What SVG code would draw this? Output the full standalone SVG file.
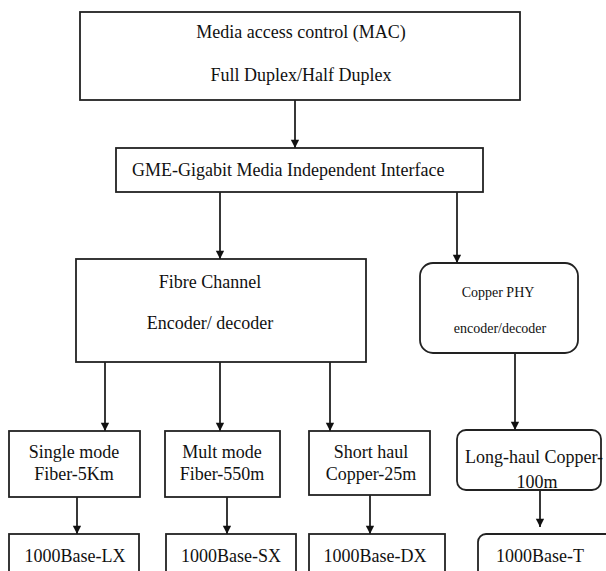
<svg xmlns="http://www.w3.org/2000/svg" width="606" height="571" viewBox="0 0 606 571">
<defs>
<marker id="ah" viewBox="0 0 10 12" refX="10" refY="5" markerWidth="12" markerHeight="10" markerUnits="userSpaceOnUse" orient="auto">
<path d="M0,0 L10,5 L0,10 Z" fill="#111"/>
</marker>
<style>
.box{fill:#fff;stroke:#222;stroke-width:1.8}
.t{font-family:"Liberation Serif","Times New Roman",serif;font-size:18px;fill:#111;text-anchor:middle}
.s{font-size:14px}
.c{stroke:#222;stroke-width:1.8;fill:none;marker-end:url(#ah)}
</style>
</defs>
<rect width="606" height="571" fill="#fff"/>
<g id="mac">
<rect class="box" x="80" y="12" width="440" height="88"/>
<text class="t" x="301" y="38">Media access control (MAC)</text>
<text class="t" x="301" y="81">Full Duplex/Half Duplex</text>
</g>
<g id="gmii">
<rect class="box" x="116" y="148" width="367" height="44"/>
<text class="t" x="132" y="176" style="text-anchor:start">GME-Gigabit Media Independent Interface</text>
</g>
<g id="fibre">
<rect class="box" x="76" y="259" width="290" height="103"/>
<text class="t" x="210" y="288">Fibre Channel</text>
<text class="t" x="210" y="329">Encoder/ decoder</text>
</g>
<g id="copperphy">
<rect class="box" x="420" y="263" width="158" height="90" rx="13"/>
<text class="t s" x="498" y="297">Copper PHY</text>
<text class="t s" x="500" y="333">encoder/decoder</text>
</g>
<g id="single">
<rect class="box" x="9" y="431" width="131" height="66"/>
<text class="t" x="74" y="458">Single mode</text>
<text class="t" x="74" y="480">Fiber-5Km</text>
</g>
<g id="mult">
<rect class="box" x="165" y="431" width="115" height="66"/>
<text class="t" x="222" y="458">Mult mode</text>
<text class="t" x="222" y="480">Fiber-550m</text>
</g>
<g id="short">
<rect class="box" x="309" y="431" width="121" height="64"/>
<text class="t" x="371" y="458">Short haul</text>
<text class="t" x="371" y="480">Copper-25m</text>
</g>
<g id="long">
<rect class="box" x="457" y="430" width="144" height="60" rx="9"/>
<text class="t" x="534" y="463">Long-haul Copper-</text>
<text class="t" x="537" y="488">100m</text>
</g>
<g id="lx">
<rect class="box" x="9" y="534" width="130" height="45"/>
<text class="t" x="75" y="562">1000Base-LX</text>
</g>
<g id="sx">
<rect class="box" x="166" y="534" width="130" height="45"/>
<text class="t" x="231" y="562">1000Base-SX</text>
</g>
<g id="dx">
<rect class="box" x="309" y="534" width="136" height="45"/>
<text class="t" x="375" y="562">1000Base-DX</text>
</g>
<g id="t">
<rect class="box" x="478" y="534" width="140" height="45" rx="8"/>
<text class="t" x="540" y="562">1000Base-T</text>
</g>
<g id="connectors">
<line class="c" x1="295" y1="100" x2="295" y2="148"/>
<line class="c" x1="220" y1="192" x2="220" y2="259"/>
<line class="c" x1="457" y1="192" x2="457" y2="263"/>
<line class="c" x1="105" y1="362" x2="105" y2="431"/>
<line class="c" x1="220" y1="362" x2="220" y2="431"/>
<line class="c" x1="330" y1="362" x2="330" y2="431"/>
<line class="c" x1="515" y1="353" x2="515" y2="430"/>
<line class="c" x1="77" y1="497" x2="77" y2="534"/>
<line class="c" x1="227" y1="497" x2="227" y2="534"/>
<line class="c" x1="370" y1="495" x2="370" y2="534"/>
<line class="c" x1="540" y1="490" x2="540" y2="527"/>
</g>
</svg>
